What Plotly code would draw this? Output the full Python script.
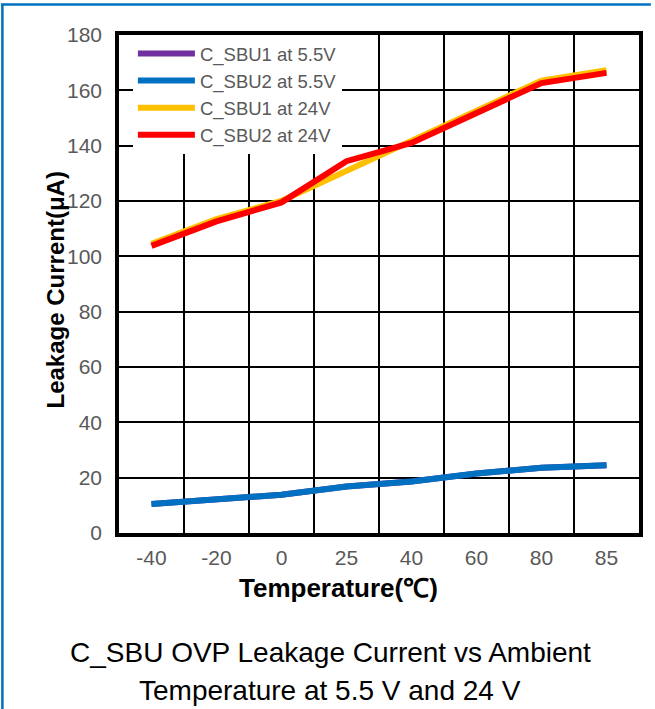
import plotly.graph_objects as go

# Ambient temperature categories (°C)
temps = ["-40", "-20", "0", "25", "40", "60", "80", "85"]

# Leakage current (µA)
sbu1_5v5 = [10.5, 12.4, 13.8, 16.8, 18.6, 21.5, 23.6, 24.5]
sbu2_5v5 = [10.5, 12.4, 13.8, 16.8, 18.6, 21.5, 23.6, 24.5]
sbu1_24v = [104.5, 113.5, 120.0, 131.0, 141.5, 153.0, 163.5, 167.3]
sbu2_24v = [103.8, 112.6, 119.5, 134.4, 141.0, 152.0, 162.6, 166.3]

series = [
    ("C_SBU1 at 5.5V", sbu1_5v5, "#7030A0"),
    ("C_SBU2 at 5.5V", sbu2_5v5, "#0070C0"),
    ("C_SBU1 at 24V", sbu1_24v, "#FFC000"),
    ("C_SBU2 at 24V", sbu2_24v, "#FF0000"),
]

FONT = "Arial, Liberation Sans, sans-serif"
W, H = 655, 709
L, R, T, B = 119, 12, 35, 176
pw, ph = W - L - R, H - T - B


def px(x):
    return (x - L) / pw


def py(y):
    return (H - B - y) / ph


fig = go.Figure()
for name, vals, color in series:
    fig.add_trace(go.Scatter(
        x=temps, y=vals, mode="lines", name=name,
        line=dict(color=color, width=6),
    ))


def label(text, x, y, size, angle=0):
    return dict(text=text, xref="paper", yref="paper", x=px(x), y=py(y),
                xanchor="center", yanchor="middle", showarrow=False,
                textangle=angle, font=dict(family=FONT, size=size, color="black"))


fig.update_layout(
    width=W, height=H,
    margin=dict(l=L, r=R, t=T, b=B),
    paper_bgcolor="white", plot_bgcolor="white",
    font=dict(family=FONT, color="#595959"),
    showlegend=True,
    legend=dict(
        x=px(133), y=1.0, xanchor="left", yanchor="top",
        bgcolor="white", borderwidth=0,
        font=dict(family=FONT, size=18.5, color="#595959"),
        itemwidth=57,
    ),
    xaxis=dict(
        type="category", tickson="boundaries",
        showgrid=True, gridcolor="black", gridwidth=2,
        showline=True, linecolor="black", linewidth=3.5, mirror=True,
        ticks="", ticklabelstandoff=3,
        tickfont=dict(size=21, color="#595959"),
        range=[-0.5, 7.5],
    ),
    yaxis=dict(
        range=[0, 180], dtick=20, tick0=0,
        showgrid=True, gridcolor="black", gridwidth=2,
        zeroline=False,
        showline=True, linecolor="black", linewidth=3.5, mirror=True,
        ticks="", ticklabelstandoff=9,
        tickfont=dict(size=21, color="#595959"),
    ),
    annotations=[
        label("<b>Temperature(℃)</b>", 340, 588, 26),
        label("<b>Leakage Current(μA)</b>", 55, 290, 24, angle=-90),
        label("C_SBU OVP Leakage Current vs Ambient", 332, 652, 28),
        label("Temperature at 5.5 V and 24 V", 332, 690, 28),
    ],
    shapes=[
        dict(type="line", xref="paper", yref="paper",
             x0=px(0), x1=px(W), y0=py(4.5), y1=py(4.5),
             line=dict(color="#0070C0", width=2.5)),
        dict(type="line", xref="paper", yref="paper",
             x0=px(1.5), x1=px(1.5), y0=py(4), y1=py(H),
             line=dict(color="#0070C0", width=2.5)),
    ],
)

fig.write_html("out.html")
